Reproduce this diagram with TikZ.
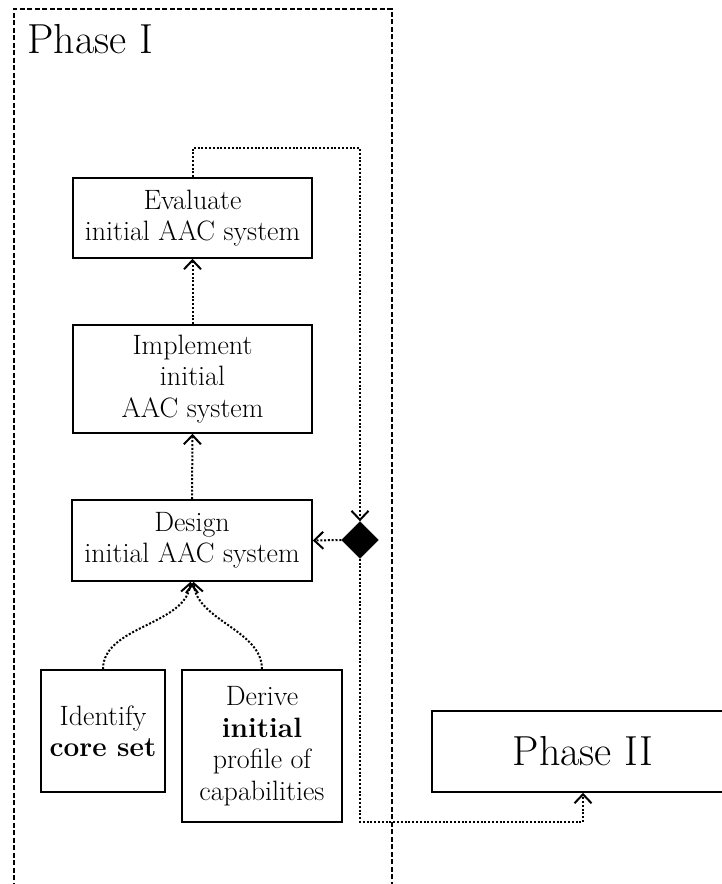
\documentclass[tikz,border=0pt]{standalone}
\usetikzlibrary{arrows.meta,shapes.geometric}
\begin{document}
\begin{tikzpicture}[x=1pt,y=-1pt,
  stepbox/.style={draw, line width=1.6pt, align=center, inner sep=0pt,
    font=\fontsize{28}{31.5}\selectfont},
  flow/.style={line width=2pt, dash pattern=on 2pt off 1.8pt,
    -{Straight Barb[length=9pt,width=17pt,line width=2pt]}},
  frame/.style={draw, line width=1.8pt, dash pattern=on 5pt off 2.5pt,
    inner sep=0pt}]
\useasboundingbox (0,0) rectangle (722,884);
\clip (0,0) rectangle (722,884);

% Phase I frame (open at the bottom of the page)
\node[frame, anchor=north west, minimum width=378pt, minimum height=920pt]
  (phaseone) at (13,8) {};
\node[anchor=base west, inner sep=0pt, font=\fontsize{42}{46}\selectfont]
  (phaseonelabel) at (27,53) {Phase I};

% Activities
\node[stepbox, minimum width=239pt, minimum height=80pt] (evaluate) at (192.5,218)
  {Evaluate\\initial AAC system};
\node[stepbox, minimum width=239pt, minimum height=108pt] (implement) at (192.5,379)
  {Implement\\initial\\AAC system};
\node[stepbox, minimum width=240pt, minimum height=81pt] (design) at (192,540.5)
  {Design\\initial AAC system};
\node[stepbox, minimum width=124pt, minimum height=122pt] (identify) at (103,731)
  {Identify\\\textbf{core set}};
\node[stepbox, minimum width=160pt, minimum height=152pt] (derive) at (262,746)
  {Derive\\\textbf{initial}\\profile of\\capabilities};

% Decision
\node[fill=black, draw=black, shape=diamond, minimum width=37pt, minimum height=37pt,
  inner sep=0pt] (decide) at (360,540) {};

% Phase II
\node[stepbox, minimum width=302pt, minimum height=81pt,
  font=\fontsize{42}{46}\selectfont] (phasetwo) at (583,751.5) {Phase II};

% Coordinates for bends
\coordinate (loopA) at (192.5,148);
\coordinate (loopB) at (360,148);
\coordinate (exitA) at (360,822);
\coordinate (exitB) at (583,822);

% Connectors
\draw[flow] (implement.north) -- (evaluate.south);
\draw[flow] (design.north) -- (implement.south);
\draw[flow] (identify.north) to[out=90,in=-95,looseness=0.9] ([xshift=-1.5pt]design.south);
\draw[flow] (derive.north) to[out=90,in=-85,looseness=0.9] ([xshift=1.5pt]design.south);
\draw[flow] (evaluate.north) -- (loopA) -- (loopB) -- (decide.north);
\draw[flow] (decide.west) -- (design.east);
\draw[flow] (decide.south) -- (exitA) -- (exitB) -- (phasetwo.south);
\end{tikzpicture}
\end{document}
